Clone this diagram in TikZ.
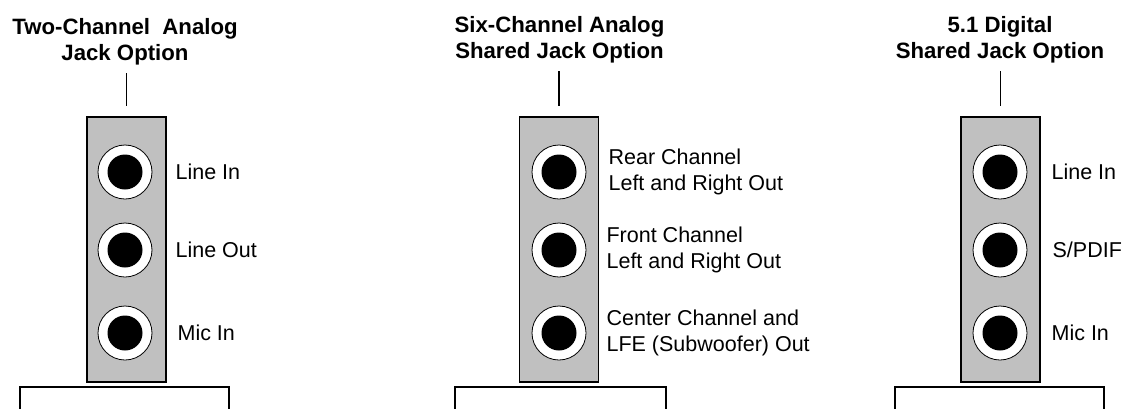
\documentclass[tikz,border=0pt]{standalone}
\usepackage{fontspec}
\setmainfont{Liberation Sans}
\usepackage{xcolor}
\usetikzlibrary{positioning}

\definecolor{panelgrey}{HTML}{C0C0C0}

\tikzset{
  paneltitle/.style={font=\bfseries\fontsize{22.2}{25.5}\selectfont, align=center, inner sep=0pt},
  jacklabel/.style={font=\fontsize{21.5}{26}\selectfont, align=left, inner sep=0pt},
  bracket/.style={draw, line width=1.2pt, fill=panelgrey, minimum width=79pt, minimum height=265pt, inner sep=0pt},
  jack/.style={circle, draw, line width=0.8pt, fill=white, minimum size=54pt, inner sep=0pt,
    path picture={\fill[black] (path picture bounding box.center) circle (17.5pt);}},
  tick/.style={line width=1.2pt, shorten <=8pt, shorten >=10pt},
  slot/.style={draw, line width=1.2pt}
}

\begin{document}
\begin{tikzpicture}[x=1pt, y=-1pt]
\useasboundingbox (0,0) rectangle (1127,408);

% --- (a) TWO-CHANNEL ---
\node[paneltitle] (titleA) at (125,42) {Two-Channel~ Analog\\Jack Option};
\node[bracket] (boxA) at (126.5,249.5) {};
\draw[slot] (20,387) rectangle (229,412);

\foreach \n/\y in {1/172,2/250,3/333}
  \node[jack] (jackA\n) at (125,\y) {};

\node[jacklabel, right=23pt of jackA1] (labA1) {Line In};
\node[jacklabel, right=23pt of jackA2] (labA2) {Line Out};
\node[jacklabel, right=25pt of jackA3] (labA3) {Mic In};

\draw[tick] (boxA.north |- titleA.south) -- (boxA.north);

% --- (b) SIX-CHANNEL ---
\node[paneltitle] (titleB) at (559.5,40) {Six-Channel Analog\\Shared Jack Option};
\node[bracket] (boxB) at (559,249.5) {};
\draw[slot] (455,387) rectangle (666,412);

\foreach \n/\y in {1/172,2/250,3/333}
  \node[jack] (jackB\n) at (559,\y) {};

\node[jacklabel, right=22pt of jackB1] (labB1) {Rear Channel\\Left and Right Out};
\node[jacklabel, right=20pt of jackB2] (labB2) {Front Channel\\Left and Right Out};
\node[jacklabel, right=20pt of jackB3] (labB3) {Center Channel and\\LFE (Subwoofer) Out};

\draw[tick] (boxB.north |- titleB.south) -- (boxB.north);

% --- (c) 5.1 DIGITAL ---
\node[paneltitle] (titleC) at (1000,40) {5.1 Digital\\Shared Jack Option};
\node[bracket] (boxC) at (1000.5,249.5) {};
\draw[slot] (895,387) rectangle (1104,412);

\foreach \n/\y in {1/172,2/250,3/333}
  \node[jack] (jackC\n) at (1000,\y) {};

\node[jacklabel, right=24pt of jackC1] (labC1) {Line In};
\node[jacklabel, right=25pt of jackC2] (labC2) {S/PDIF};
\node[jacklabel, right=24pt of jackC3] (labC3) {Mic In};

\draw[tick] (boxC.north |- titleC.south) -- (boxC.north);

\end{tikzpicture}
\end{document}
